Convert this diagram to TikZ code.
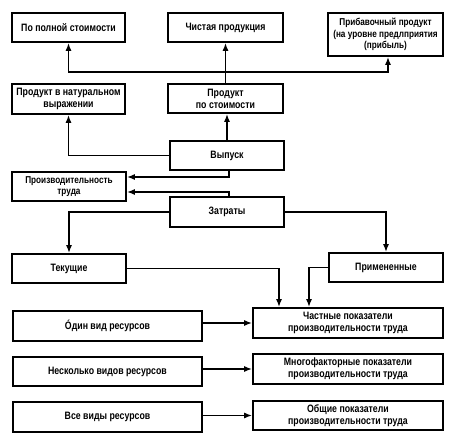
\documentclass[tikz,border=0pt]{standalone}
\usepackage{fontspec}
\setmainfont{Liberation Sans}[FakeStretch=0.82,BoldFeatures={FakeStretch=0.82}]
\usetikzlibrary{arrows.meta,calc}
\begin{document}
\begin{tikzpicture}[x=1pt,y=-1pt,
  box/.style={draw,line width=1.6pt,inner sep=0pt,align=center,
    font=\fontsize{10.7}{11.8}\selectfont\bfseries},
  smalltext/.style={font=\fontsize{10}{11.8}\selectfont\bfseries},
  arr/.style={line width=1.6pt,-{Latex[length=8pt,width=6pt]}}]
\useasboundingbox[fill=white] (0,0) rectangle (451,437);
\newcommand{\bx}[7][]{\node[box,#1,minimum width={#5-#3},minimum height={#6-#4}] (#2) at ({(#3+#5)/2},{(#4+#6)/2}) {#7};}
\bx{polnoy}{12}{13}{125}{42}{По полной стоимости}
\bx{chist}{168}{13}{283}{42}{Чистая продукция}
\bx[smalltext]{pribav}{328}{13}{443}{56}{Прибавочный продукт\\(на уровне предлприятия\\(прибыль)}
\bx{natur}{12}{84}{125}{114}{Продукт в натуральном\\выражении}
\bx{postoim}{168}{84}{283}{113}{Продукт\\по стоимости}
\bx{vypusk}{170}{141}{284}{170}{Выпуск}
\bx[smalltext]{proizv}{12}{172}{126}{201}{Производительность\\труда}
\bx{zatraty}{170}{197}{284}{227}{Затраты}
\bx{tekush}{12}{254}{126}{283}{Текущие}
\bx{primen}{329}{253}{443}{282}{Примененные}
\bx{chast}{253}{308}{443}{338}{Частные показатели\\производительности труда}
\bx{mnogo}{253}{354}{443}{384}{Многофакторные показатели\\производительности труда}
\bx{obsh}{253}{401}{443}{430}{Общие показатели\\производительности труда}
\bx{odin}{13}{311}{202}{341}{Óдин вид ресурсов}
\bx{nesk}{13}{357}{202}{386}{Несколько видов ресурсов}
\bx{vse}{13}{402}{202}{432}{Все виды ресурсов}
\coordinate (j) at (227,72);
\coordinate (h1) at (0,177);
\coordinate (h2) at (0,192);
\coordinate (v1) at (279,0);
\coordinate (v2) at (309,0);
% connectors
\draw[arr] (vypusk.west) -| (natur.south);
\draw[arr] (vypusk.north) -- (vypusk.north |- postoim.south);
\draw[arr] (postoim.north) -- (postoim.north |- chist.south);
\draw[arr] (j) -| (polnoy.south);
\draw[arr] (j) -| ([xshift=2.5pt]pribav.south);
\draw[arr] ([xshift=2pt]vypusk.south) |- (proizv.east |- h1);
\draw[arr] ([xshift=2pt]zatraty.north) |- (proizv.east |- h2);
\draw[arr] (zatraty.west) -| (tekush.north);
\draw[arr] (zatraty.east) -| (primen.north);
\draw[arr] (tekush.east) -| (v1 |- chast.north);
\draw[arr] (primen.west) -| (v2 |- chast.north);
\draw[arr] (odin.east |- chast.west) -- (chast.west);
\draw[arr] (nesk.east |- mnogo.west) -- (mnogo.west);
\draw[arr] (vse.east |- obsh.west) -- (obsh.west);
\end{tikzpicture}
\end{document}
